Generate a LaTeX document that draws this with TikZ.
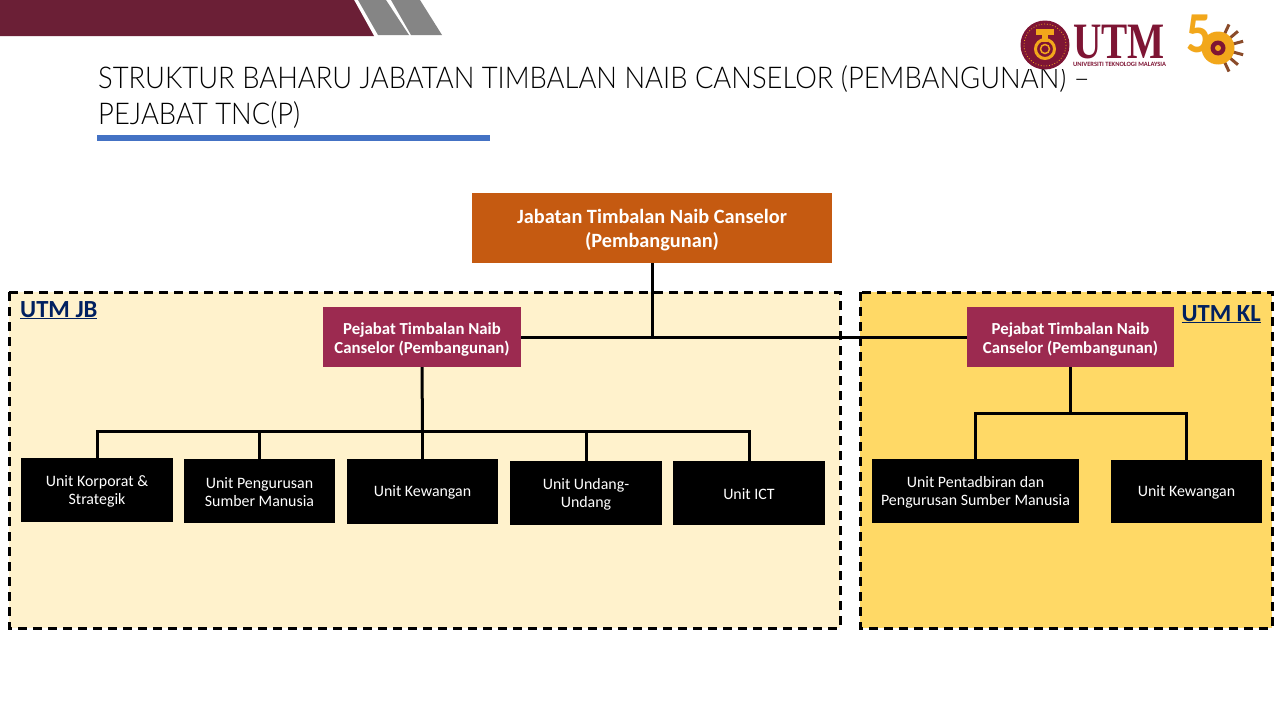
\documentclass[tikz,border=0pt]{standalone}
\usepackage{fontspec}
\setmainfont{Carlito}
\newfontfamily\logofont{Liberation Serif}
\newfontfamily\titlefont[UprightFont=* Light,FakeStretch=0.912]{Lato}
\usetikzlibrary{calc}
\definecolor{barcolor}{HTML}{6B1F36}
\definecolor{barwhite}{HTML}{858585}
\definecolor{rulecolor}{HTML}{4472C4}
\definecolor{topcolor}{HTML}{C55A11}
\definecolor{pejabatcolor}{HTML}{9C2A50}
\definecolor{jbcolor}{HTML}{FFF2CC}
\definecolor{klcolor}{HTML}{FFD966}
\definecolor{labelcolor}{HTML}{002060}
\definecolor{logocolor}{HTML}{7E1534}
\definecolor{goldcolor}{HTML}{F2A71B}
\definecolor{itemcolor}{HTML}{8A4B2A}
\newcommand{\lift}{\rule{0pt}{16pt}}
\newcommand{\liftu}{\rule{0pt}{13.5pt}}
\tikzset{
  topbox/.style={fill=topcolor,text=white,font=\fontsize{20.3}{24}\selectfont\bfseries,align=center,inner sep=0pt},
  pejabat/.style={fill=pejabatcolor,text=white,font=\fontsize{16.8}{19}\selectfont\bfseries,align=center,inner sep=0pt},
  unitbox/.style={fill=black,text=white,font=\fontsize{15.9}{17.5}\selectfont,align=center,inner sep=0pt},
  campus/.style={draw=black,line width=3pt,dash pattern=on 9pt off 6pt},
  campuslabel/.style={text=labelcolor,font=\fontsize{24.6}{26}\selectfont\bfseries,inner sep=0pt},
  titleline/.style={anchor=base west,inner sep=0pt,font=\titlefont\fontsize{30}{36}\selectfont},
  link/.style={draw=black,line width=3pt}
}
\begin{document}
\begin{tikzpicture}[x=1pt,y=-1pt]
   \useasboundingbox (0,0) rectangle (1280,720);
   \fill [white] (0,0) rectangle (1280,720);
   % top band
   \fill [barcolor] (0,0) -- (354,0) -- (374,36) -- (0,36) -- cycle;
   \fill [barwhite] (358,0) -- (386,0) -- (409,35) -- (378,35) -- cycle;
   \fill [barwhite] (391,0) -- (420,0) -- (442,35) -- (411,35) -- cycle;
   % title
   \node (titlea) [titleline] at (98,88) {STRUKTUR BAHARU JABATAN TIMBALAN NAIB CANSELOR (PEMBANGUNAN) –};
   \node (titleb) [titleline] at (98,124) {PEJABAT TNC(P)};
   \fill [rulecolor] (97,135) rectangle (490,141);
   % logo
   \fill [white] (1010,15) rectangle (1250,69);
   \fill [logocolor] (1045,45) circle (24.5);
   \draw [goldcolor,line width=.8pt,dotted] (1045,45) circle (21);
   \draw [goldcolor,line width=3pt] (1045,49) circle (9.5);
   \draw [goldcolor,line width=1.5pt] (1045,49) circle (4.5);
   \fill [goldcolor] (1036,29) rectangle (1054,35);
   \fill [goldcolor] (1042,35) rectangle (1048,42);
   \node (logoname) [anchor=base west,inner sep=0pt,text=logocolor,xscale=.77,transform shape,font=\logofont\fontsize{51}{51}\selectfont\bfseries] at (1073,58) {UTM};
   \node (logosub) [anchor=base west,inner sep=0pt,text=logocolor,font=\fontsize{6.5}{7}\selectfont\bfseries] at (1073,66) {UNIVERSITI TEKNOLOGI MALAYSIA};
   \node (logofifty) [anchor=base west,inner sep=0pt,text=goldcolor,xscale=.85,transform shape,font=\fontsize{58}{58}\selectfont\bfseries] at (1186,52) {5};
   \foreach \a in {-65,-40,-15,15,40,65} {
     \draw [itemcolor,line width=3pt] ($(1218,48)+(\a:14)$) -- ($(1218,48)+(\a:26)$);
   }
   \fill [goldcolor] (1218,48) circle (16.5);
   \fill [logocolor] (1218,48) circle (7.5);
   \fill [goldcolor] (1218,48) circle (3);
   % campus panels
   \draw [campus,fill=jbcolor] (9,292) rectangle (840,628);
   \draw [campus,fill=klcolor] (860,292) rectangle (1272,628);
   \node (labeljb) [campuslabel,anchor=base west] at (20,317) {\underline{UTM JB}};
   \node (labelkl) [campuslabel,anchor=base east] at (1261,321) {\underline{UTM KL}};
   % boxes
   \node (jtnc) [topbox,minimum width=360pt,minimum height=70pt] at (652,228) {\rule{0pt}{18pt}Jabatan Timbalan Naib Canselor\\(Pembangunan)};
   \node (pjb) [pejabat,minimum width=198pt,minimum height=60pt] at (422,337) {\lift Pejabat Timbalan Naib\\Canselor (Pembangunan)};
   \node (pkl) [pejabat,minimum width=207pt,minimum height=60pt] at (1070.5,337) {\lift Pejabat Timbalan Naib\\Canselor (Pembangunan)};
   \node (ukorporat) [unitbox,minimum width=152pt,minimum height=64pt] at (97,490) {\liftu Unit Korporat \&\\Strategik};
   \node (usumber) [unitbox,minimum width=151pt,minimum height=64pt] at (259.5,491) {\liftu Unit Pengurusan\\Sumber Manusia};
   \node (ukewangan) [unitbox,minimum width=151pt,minimum height=65pt] at (422.5,491.5) {\liftu Unit Kewangan};
   \node (uundang) [unitbox,minimum width=152pt,minimum height=64pt] at (586,493) {\liftu Unit Undang-\\Undang};
   \node (uict) [unitbox,minimum width=152pt,minimum height=64pt] at (749,493) {\liftu Unit ICT};
   \node (upentadbiran) [unitbox,minimum width=207pt,minimum height=64pt] at (975.5,491) {\liftu Unit Pentadbiran dan\\Pengurusan Sumber Manusia};
   \node (ukewangankl) [unitbox,minimum width=151pt,minimum height=63pt] at (1186.5,491.5) {\liftu Unit Kewangan};
   % connectors
   \coordinate (busjb) at (422.5,431);
   \coordinate (buskl) at (1070.5,413.5);
   \draw [link] (jtnc.south) -- (jtnc.south |- pjb.east);
   \draw [link] (pjb.east) -- (pkl.west);
   \draw [link] (pjb.south) -- (busjb);
   \draw [link] (pkl.south) -- (buskl);
   \foreach \u in {ukorporat,usumber,ukewangan,uundang,uict} {
     \draw [link] (busjb) -- (busjb -| \u.north) -- (\u.north);
   }
   \foreach \u in {upentadbiran,ukewangankl} {
     \draw [link] (buskl) -- (buskl -| \u.north) -- (\u.north);
   }
\end{tikzpicture}
\end{document}
